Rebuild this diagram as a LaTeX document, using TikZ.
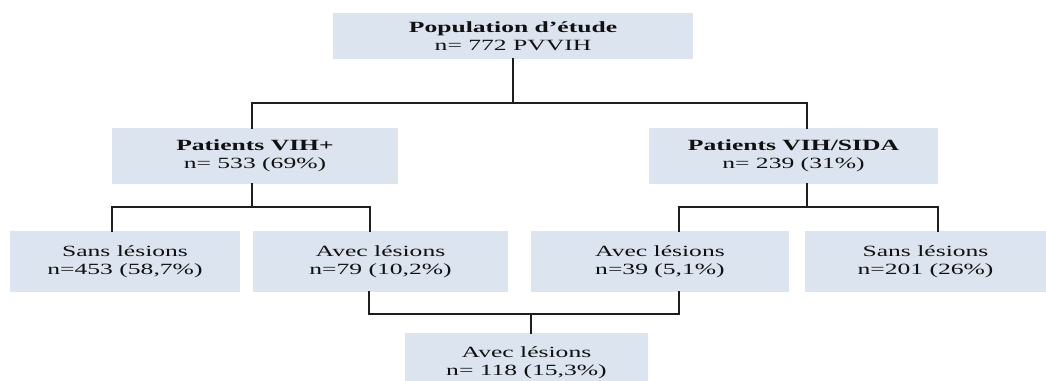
\documentclass[tikz,border=0pt]{standalone}
\usepackage{fontspec}
\setmainfont[FakeStretch=1.64]{Liberation Serif}
\definecolor{boxfill}{HTML}{DCE4F0}
\definecolor{linecol}{HTML}{1E1E1E}
\definecolor{txtcol}{HTML}{111111}
\tikzset{
  box/.style={rectangle, fill=boxfill, draw=none, inner sep=0pt, align=center,
    text=txtcol, font=\fontsize{15.6}{18}\selectfont},
  conn/.style={draw=linecol, line width=1.6pt, line cap=rect}
}
\begin{document}
\begin{tikzpicture}[x=1pt,y=-1pt]
\useasboundingbox (0,0) rectangle (1046,380);
\begin{scope}
\clip (0,0) rectangle (1046,380);
\node[box, minimum width=360pt, minimum height=46pt] (top) at (513,36) {\textbf{Population d’étude}\\n= 772 PVVIH};
\node[box, minimum width=286pt, minimum height=56pt] (vihp) at (255,156) {\textbf{Patients VIH+}\\n= 533 (69\%)};
\node[box, minimum width=289pt, minimum height=56pt] (sida) at (793.5,156) {\textbf{Patients VIH/SIDA}\\n= 239 (31\%)};
\node[box, minimum width=230pt, minimum height=61pt] (sans1) at (125,261.5) {Sans lésions\\n=453 (58,7\%)};
\node[box, minimum width=255pt, minimum height=61pt] (avec1) at (380.5,261.5) {Avec lésions\\n=79 (10,2\%)};
\node[box, minimum width=258pt, minimum height=61pt] (avec2) at (660,261.5) {Avec lésions\\n=39 (5,1\%)};
\node[box, minimum width=241pt, minimum height=61pt] (sans2) at (925.5,261.5) {Sans lésions\\n=201 (26\%)};
\node[box, minimum width=243pt, minimum height=59pt] (total) at (526.5,362.5) {Avec lésions\\n= 118 (15,3\%)};
\end{scope}
% junction coordinates
\coordinate (t0) at (513,103);
\coordinate (t1) at (252,103);
\coordinate (t2) at (807,103);
\coordinate (l0) at (252,207);
\coordinate (l1) at (112,207);
\coordinate (l2) at (370,207);
\coordinate (r0) at (807,207);
\coordinate (r1) at (679,207);
\coordinate (r2) at (938,207);
\coordinate (b1) at (369,314);
\coordinate (b2) at (679,314);
\coordinate (b0) at (531,314);
% top level
\draw[conn] (top.south) -- (top.south |- t0);
\draw[conn] (t1) -- (t2);
\draw[conn] (t1) -- (t1 |- vihp.north);
\draw[conn] (t2) -- (t2 |- sida.north);
% left branch
\draw[conn] (l0 |- vihp.south) -- (l0);
\draw[conn] (l1) -- (l2);
\draw[conn] (l1) -- (l1 |- sans1.north);
\draw[conn] (l2) -- (l2 |- avec1.north);
% right branch
\draw[conn] (r0 |- sida.south) -- (r0);
\draw[conn] (r1) -- (r2);
\draw[conn] (r1) -- (r1 |- avec2.north);
\draw[conn] (r2) -- (r2 |- sans2.north);
% merge
\draw[conn] (b1 |- avec1.south) -- (b1) -- (b2) -- (b2 |- avec2.south);
\draw[conn] (b0) -- (b0 |- total.north);
\end{tikzpicture}
\end{document}
